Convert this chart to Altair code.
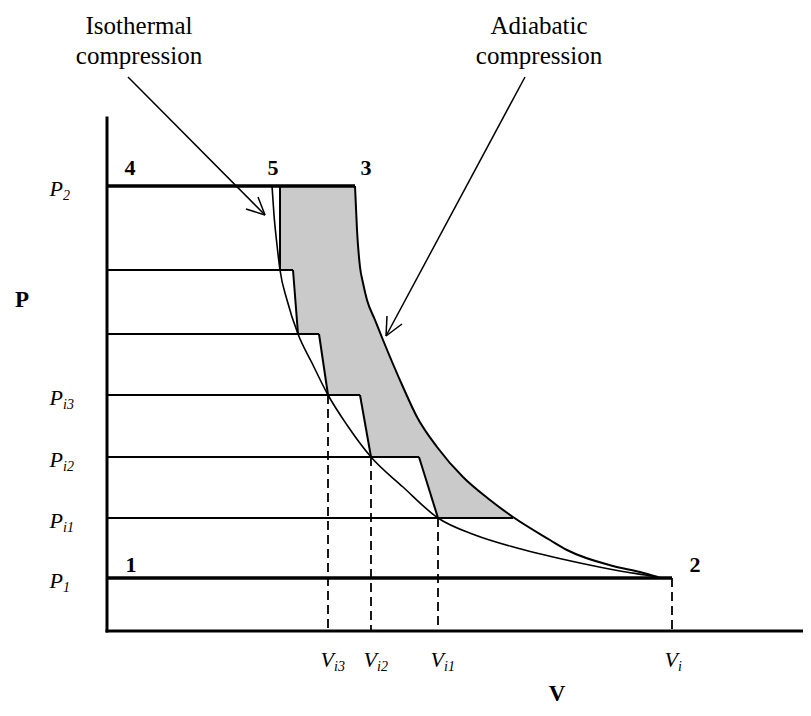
import altair as alt
import pandas as pd

# ---- chart units: V to the right of the P axis, P above the V axis ----
# isothermal compression curve
iso_V = [165, 167, 170, 173, 180, 191, 205, 221, 240, 264, 296, 331, 368, 410, 473, 513, 538, 553]
iso_P = [445, 416, 386, 361, 331, 297, 268, 236, 206, 174, 144, 113, 96, 83, 68, 60, 56, 53.5]

# adiabatic compression curve
adi_V = [248, 250, 253, 256, 260, 268, 276, 296, 310, 330, 356, 383, 406, 443, 460, 506, 533, 551]
adi_P = [445, 401, 364, 348, 331, 311, 291, 244, 214, 184, 154, 131, 114, 91, 81, 65, 59, 54]

# constant-pressure lines from the P axis (thin) and the two main lines (thick)
thin_P = [113, 174, 236, 297, 361]
thin_Vend = [406, 312, 253, 212, 186]
thick_P = [53, 445]
thick_Vend = [565, 248]

# stage compression lines (start V,P -> end V,P)
stg_V1 = [331, 264, 221, 191, 173]
stg_P1 = [113, 174, 236, 297, 361]
stg_V2 = [312, 253, 212, 186, 173]
stg_P2 = [174, 236, 297, 361, 445]

# dashed volume markers
dash_V = [221, 264, 331, 565]
dash_P = [236, 174, 113, 53]

# shaded region: lower bound = staged path, upper bound = adiabat / P2
sh_V = [173, 186, 191, 212, 221, 248, 250, 253, 256, 260, 264, 268, 276, 296, 310, 312, 330, 331, 356, 383, 406]
sh_lo = [361, 361, 297, 297, 236, 236, 236, 236, 219, 197, 174, 174, 174, 174, 174, 174, 116, 113, 113, 113, 113]
sh_hi = [445, 445, 445, 445, 445, 445, 401, 364, 348, 331, 321, 311, 291, 244, 214, 211, 184, 182, 154, 131, 114]

# axes (V axis along P = 0, P axis along V = 0)
ax_x1 = [0, 0]
ax_y1 = [0, 0]
ax_x2 = [696, 0]
ax_y2 = [0, 513]

# annotation arrows (segments)
arr_V1 = [21, 158, 158, 418, 279, 279]
arr_P1 = [554, 416, 416, 554, 295, 295]
arr_V2 = [158, 139, 151, 279, 295, 280]
arr_P2 = [416, 422, 434, 295, 307, 315]

# annotation texts
ann_text = ["Isothermal", "compression", "Adiabatic", "compression"]
ann_V = [32, 32, 432, 432]
ann_P = [597, 567, 597, 567]

# state point numbers
pt_text = ["1", "2", "3", "4", "5"]
pt_V = [24, 588, 259, 23, 166]
pt_P = [66, 66, 463, 463, 463]

# axis titles
title_text = ["P", "V"]
title_V = [-85, 450]
title_P = [331, -63]

# axis tick labels
ytick_P = [445, 236, 174, 113, 53]
ytick_sub = ["2", "i3", "i2", "i1", "1"]
xtick_V = [221, 264, 331, 565]
xtick_sub = ["i3", "i2", "i1", "i"]

FONT = "Liberation Serif"
xs = alt.Scale(domain=[0, 696], nice=False, zero=False)
ys = alt.Scale(domain=[0, 513], nice=False, zero=False)

shade_df = pd.DataFrame({"V": sh_V, "lo": sh_lo, "hi": sh_hi})
shade = alt.Chart(shade_df).mark_area(color="#cacaca", opacity=1, interpolate="linear").encode(
    x=alt.X("V:Q", scale=xs, axis=None),
    y=alt.Y("lo:Q", scale=ys, axis=None),
    y2="hi:Q",
)

iso_df = pd.DataFrame({"V": iso_V, "P": iso_P})
adi_df = pd.DataFrame({"V": adi_V, "P": adi_P})
iso = alt.Chart(iso_df).mark_line(color="black", strokeWidth=1.6, interpolate="monotone").encode(
    x=alt.X("V:Q", scale=xs, axis=None), y=alt.Y("P:Q", scale=ys, axis=None), order="V:Q")
adi = alt.Chart(adi_df).mark_line(color="black", strokeWidth=2, interpolate="monotone").encode(
    x=alt.X("V:Q", scale=xs, axis=None), y=alt.Y("P:Q", scale=ys, axis=None), order="V:Q")


def seg_chart(df, **style):
    return alt.Chart(df).mark_rule(color="black", **style).encode(
        x=alt.X("x1:Q", scale=xs, axis=None), x2="x2:Q",
        y=alt.Y("y1:Q", scale=ys, axis=None), y2="y2:Q")


thin_df = pd.DataFrame({"x1": [0] * len(thin_P), "x2": thin_Vend, "y1": thin_P, "y2": thin_P})
thick_df = pd.DataFrame({"x1": [0] * len(thick_P), "x2": thick_Vend, "y1": thick_P, "y2": thick_P})
stg_df = pd.DataFrame({"x1": stg_V1, "x2": stg_V2, "y1": stg_P1, "y2": stg_P2})
dash_df = pd.DataFrame({"x1": dash_V, "x2": dash_V, "y1": dash_P, "y2": [0] * len(dash_V)})
arr_df = pd.DataFrame({"x1": arr_V1, "x2": arr_V2, "y1": arr_P1, "y2": arr_P2})
ax_df = pd.DataFrame({"x1": ax_x1, "x2": ax_x2, "y1": ax_y1, "y2": ax_y2})

axes = seg_chart(ax_df, strokeWidth=3, strokeCap="square")
thick = seg_chart(thick_df, strokeWidth=3.5)
thin = seg_chart(thin_df, strokeWidth=2)
stg = seg_chart(stg_df, strokeWidth=2)
dash = seg_chart(dash_df, strokeWidth=1.8, strokeDash=[9, 5])
arrows = seg_chart(arr_df, strokeWidth=1.5)


def text_chart(df, **style):
    return alt.Chart(df).mark_text(color="black", font=FONT, **style).encode(
        x=alt.X("V:Q", scale=xs, axis=None), y=alt.Y("P:Q", scale=ys, axis=None), text="t:N")


ann = text_chart(pd.DataFrame({"V": ann_V, "P": ann_P, "t": ann_text}),
                 fontSize=25, align="center", baseline="alphabetic")
pts = text_chart(pd.DataFrame({"V": pt_V, "P": pt_P, "t": pt_text}),
                 fontSize=22, fontWeight="bold", align="center", baseline="middle")
titles = text_chart(pd.DataFrame({"V": title_V, "P": title_P, "t": title_text}),
                    fontSize=23, fontWeight="bold", align="center", baseline="middle")

ymain = text_chart(pd.DataFrame({"V": [-44] * len(ytick_P), "P": ytick_P, "t": ["P"] * len(ytick_P)}),
                   fontSize=22, fontStyle="italic", align="right", baseline="middle", dy=3)
ysub = text_chart(pd.DataFrame({"V": [-44] * len(ytick_P), "P": ytick_P, "t": ytick_sub}),
                  fontSize=14, fontStyle="italic", align="left", baseline="middle", dy=10)
xmain = text_chart(pd.DataFrame({"V": xtick_V, "P": [-29] * len(xtick_V), "t": ["V"] * len(xtick_V)}),
                   fontSize=22, fontStyle="italic", align="right", baseline="middle", dx=6)
xsub = text_chart(pd.DataFrame({"V": xtick_V, "P": [-36] * len(xtick_V), "t": xtick_sub}),
                  fontSize=14, fontStyle="italic", align="left", baseline="middle", dx=6)

chart = alt.layer(shade, iso, adi, thick, thin, stg, dash, arrows, axes,
                  ann, pts, titles, ymain, ysub, xmain, xsub).properties(
    width=696, height=513,
    padding={"left": 99, "top": 110, "right": 0, "bottom": 77},
    autosize=alt.AutoSizeParams(type="none"),
    background="white",
).configure_view(stroke=None)

chart.save("out.html", embed_options={"renderer": "svg", "actions": False})
